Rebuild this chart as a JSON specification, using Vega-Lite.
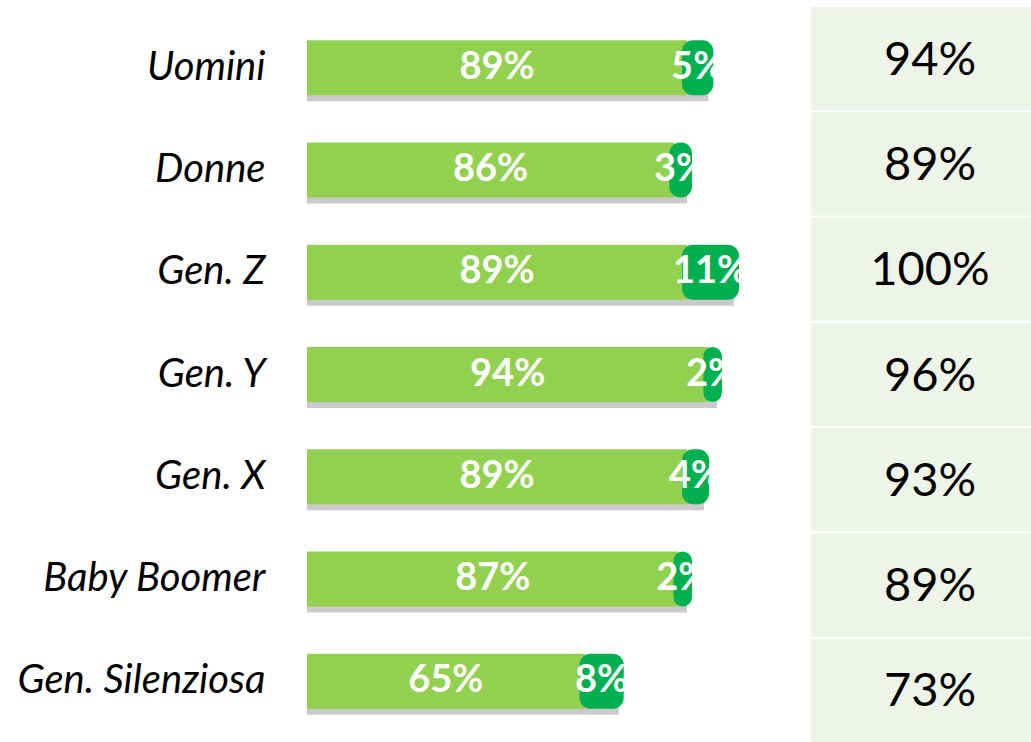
{
  "$schema": "https://vega.github.io/schema/vega-lite/v6.json",
  "padding": {"left": 16, "top": 7, "right": 0, "bottom": 0},
  "background": "white",
  "bounds": "flush",
  "spacing": 77,
  "config": {"view": {"stroke": null}, "font": "Lato"},
  "data": {
    "values": [
      {"group": "Uomini", "a": 0.89, "b": 0.05, "total": 0.94},
      {"group": "Donne", "a": 0.86, "b": 0.03, "total": 0.89},
      {"group": "Gen. Z", "a": 0.89, "b": 0.11, "total": 1.00},
      {"group": "Gen. Y", "a": 0.94, "b": 0.02, "total": 0.96},
      {"group": "Gen. X", "a": 0.89, "b": 0.04, "total": 0.93},
      {"group": "Baby Boomer", "a": 0.87, "b": 0.02, "total": 0.89},
      {"group": "Gen. Silenziosa", "a": 0.65, "b": 0.08, "total": 0.73}
    ]
  },
  "hconcat": [
    {
      "width": 427,
      "height": 735,
      "encoding": {
        "y": {
          "field": "group",
          "type": "nominal",
          "sort": null,
          "scale": {"paddingInner": 0.462, "paddingOuter": 0.326},
          "axis": {
            "title": null,
            "ticks": false,
            "domain": false,
            "labelFont": "Lato",
            "labelFontStyle": "italic",
            "labelFontSize": 40,
            "labelColor": "#000000",
            "labelPadding": 42,
            "labelLimit": 500
          }
        }
      },
      "layer": [
        {
          "mark": {"type": "bar", "color": "#7a7a7a", "opacity": 0.4, "height": 52},
          "encoding": {
            "x": {"field": "total", "type": "quantitative", "scale": {"domain": [0, 1]}, "axis": null},
            "yOffset": {"value": 35}
          }
        },
        {
          "mark": {"type": "bar", "color": "#92D050", "height": 55},
          "encoding": {
            "x": {"field": "a", "type": "quantitative", "scale": {"domain": [0, 1]}, "axis": null}
          }
        },
        {
          "mark": {"type": "bar", "color": "#00B050", "stroke": "#00B050", "strokeWidth": 10, "strokeJoin": "round", "cornerRadius": 6, "height": 45},
          "encoding": {
            "x": {"field": "a", "type": "quantitative"},
            "x2": {"field": "total"}
          }
        },
        {
          "transform": [{"fold": ["a", "b"], "as": ["part", "value"]}],
          "mark": {"type": "text", "color": "white", "fontWeight": "bold", "fontSize": 38, "font": "Lato", "align": "center", "baseline": "middle"},
          "encoding": {
            "x": {"field": "value", "type": "quantitative", "stack": "zero", "bandPosition": 0.5},
            "order": {"field": "part", "type": "nominal"},
            "detail": {"field": "part", "type": "nominal"},
            "text": {"field": "value", "type": "quantitative", "format": ".0%"}
          }
        }
      ]
    },
    {
      "width": 220,
      "height": 735,
      "encoding": {
        "y": {
          "field": "group",
          "type": "nominal",
          "sort": null,
          "scale": {"paddingInner": 0.02, "paddingOuter": 0},
          "axis": null
        }
      },
      "layer": [
        {"mark": {"type": "rect", "color": "#EEF4E7"}},
        {
          "mark": {"type": "text", "color": "#000000", "fontSize": 47, "font": "Lato", "align": "center", "baseline": "middle", "dy": 2, "dx": 9},
          "encoding": {"text": {"field": "total", "type": "quantitative", "format": ".0%"}}
        }
      ]
    }
  ]
}
